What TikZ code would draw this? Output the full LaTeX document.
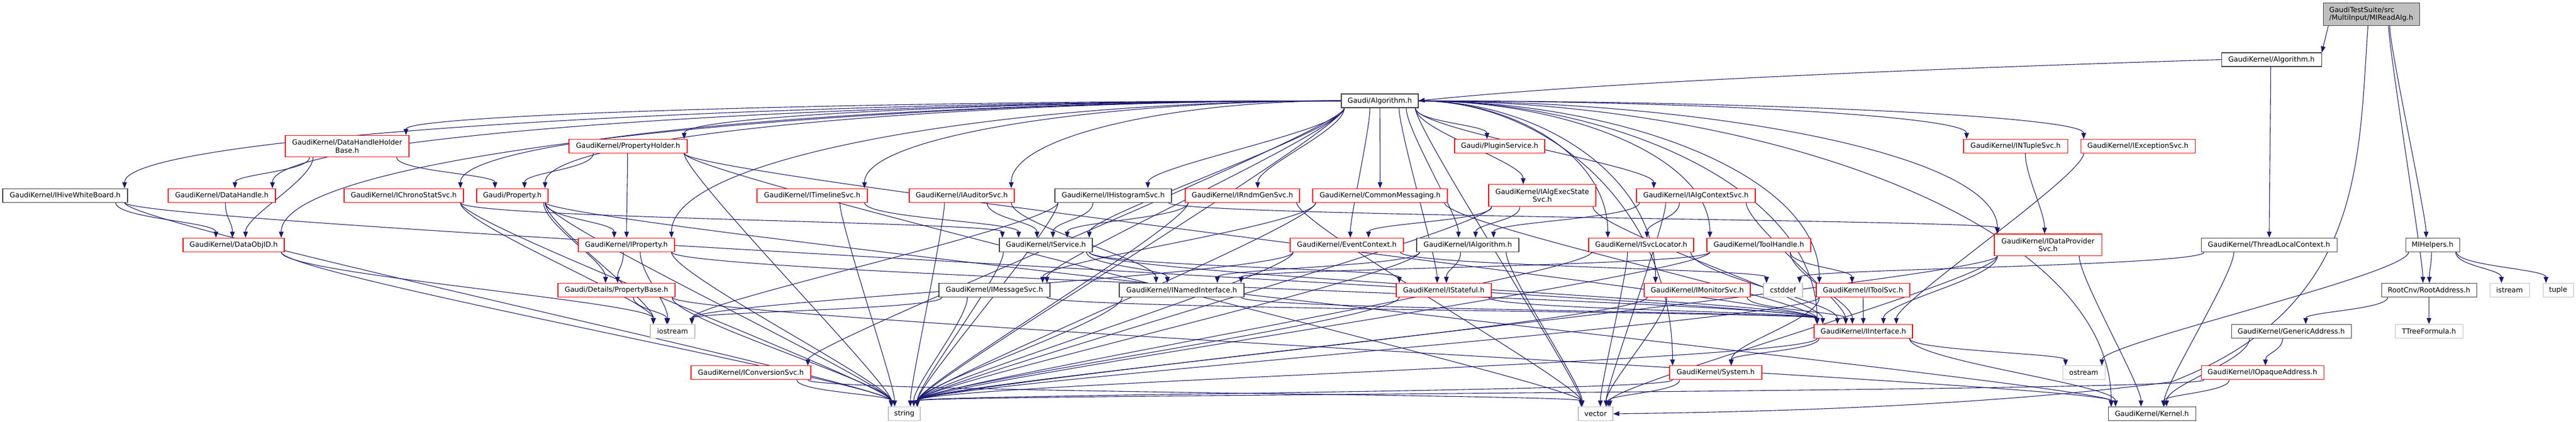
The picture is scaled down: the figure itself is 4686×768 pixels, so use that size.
\documentclass[tikz,border=0pt]{standalone}
\usepackage{fontspec}
\setmainfont{DejaVu Sans}
\usetikzlibrary{arrows.meta,backgrounds,calc}
\definecolor{edgeblue}{HTML}{191970}
\definecolor{greyfill}{HTML}{BFBFBF}
\definecolor{sysgrey}{HTML}{C0C0C0}
\definecolor{boxblack}{HTML}{404040}
\definecolor{boxred}{HTML}{FF0000}
\tikzset{
  nd/.style={draw, fill=white, line width=1.1pt, inner sep=0pt, minimum height=25,
    font=\fontsize{12.8}{14.5}\selectfont, text=black},
  rednd/.style={nd, draw=boxred},
  blknd/.style={nd, draw=boxblack},
  sysnd/.style={nd, draw=sysgrey},
  rootnd/.style={nd, draw=boxblack, fill=greyfill},
  edge/.style={draw=edgeblue, line width=1.1pt, -{Triangle[length=11pt,width=8.5pt]}}
}
% edge leaving the bottom of #1, entering the top of #2
\newcommand\edgB[2]{%
\draw[edge] let \p1=(#1.center), \p2=(#2.north), \p3=(#1.south east), \p4=(#2.north east),
 \n1={\x3-\x1}, \n2={\x4-\x2}, \n3={\x2-\x1}, \n4={\y3-\y2},
 \n6={\x1 + max(-\n1+6, min(\n1-6, 0.3*\n3))},
 \n8={\x2 + max(-\n2+6, min(\n2-6, 0.15*(\n6-\x2)))},
 \n9={min(40, 0.45*\n4)}
 in (\n6,\y3) .. controls (\n6,\y3-\n9) and (\n8,\y2+\n9) .. (\n8,\y2);}
% edge leaving the side (#3 = west/east) of #1, entering the top of #2
\newcommand\edgSide[3]{%
\draw[edge] let \p1=(#1.#3), \p2=(#2.north), \p4=(#2.north east),
 \n2={\x4-\x2},
 \n8={\x2 + max(-\n2+6, min(\n2-6, 0.15*(\x1-\x2)))},
 \n{ax}={\x1 + 0.5*(\n8-\x1)},
 \n{by}={\y2 + 0.6*(\y1-\y2)}
 in (\p1) .. controls (\n{ax},\y1) and (\n8,\n{by}) .. (\n8,\y2);}
\newcommand\edgs[2]{\foreach \tgt in {#2}{\edgB{#1}{\tgt}}}
\newcommand\edgsW[2]{\foreach \tgt in {#2}{\edgSide{#1}{\tgt}{west}}}
\newcommand\edgsE[2]{\foreach \tgt in {#2}{\edgSide{#1}{\tgt}{east}}}
\begin{document}
\begin{tikzpicture}[x=1pt,y=-1pt]
\useasboundingbox (0,0) rectangle (4686,768);
% top
\node[rootnd, minimum width=175, minimum height=40.5, align=left] (root) at (4313.5,26) {GaudiTestSuite/src\\/MultiInput/MIReadAlg.h};
\node[blknd, minimum width=182] (gkalg) at (4132,108.5) {GaudiKernel/Algorithm.h};
\node[blknd, minimum width=140] (galg) at (2510,183.5) {Gaudi/Algorithm.h};
% row A
\node[rednd, minimum width=225, minimum height=39.5, align=center] (dhhb) at (631.5,266) {GaudiKernel/DataHandleHolder\\Base.h};
\node[rednd, minimum width=215] (pholder) at (1142.5,266) {GaudiKernel/PropertyHolder.h};
\node[rednd, minimum width=164] (plugin) at (2728,266) {Gaudi/PluginService.h};
\node[rednd, minimum width=189] (ntuple) at (3666.5,266) {GaudiKernel/INTupleSvc.h};
\node[rednd, minimum width=208] (iexc) at (3889,266) {GaudiKernel/IExceptionSvc.h};
% row B
\node[blknd, minimum width=227] (hive) at (118.5,355.6) {GaudiKernel/IHiveWhiteBoard.h};
\node[rednd, minimum width=195] (dhandle) at (403.5,355.6) {GaudiKernel/DataHandle.h};
\node[rednd, minimum width=217] (chrono) at (734.5,355.6) {GaudiKernel/IChronoStatSvc.h};
\node[rednd, minimum width=130] (prop) at (932,355.6) {Gaudi/Property.h};
\node[rednd, minimum width=201] (timeline) at (1477.5,355.6) {GaudiKernel/ITimelineSvc.h};
\node[rednd, minimum width=191] (auditor) at (1749.5,355.6) {GaudiKernel/IAuditorSvc.h};
\node[blknd, minimum width=212] (histo) at (2025,355.6) {GaudiKernel/IHistogramSvc.h};
\node[rednd, minimum width=208] (rndm) at (2260,355.6) {GaudiKernel/IRndmGenSvc.h};
\node[rednd, minimum width=245] (commsg) at (2510.5,355.6) {GaudiKernel/CommonMessaging.h};
\node[rednd, minimum width=195, minimum height=40, align=center] (execstate) at (2805.5,355.8) {GaudiKernel/IAlgExecState\\Svc.h};
\node[rednd, minimum width=216] (algctx) at (3085,355.6) {GaudiKernel/IAlgContextSvc.h};
% row C
\node[rednd, minimum width=184] (objid) at (425,445.7) {GaudiKernel/DataObjID.h};
\node[rednd, minimum width=175] (iprop) at (1139.5,445.7) {GaudiKernel/IProperty.h};
\node[blknd, minimum width=169] (iservice) at (1902.5,445.7) {GaudiKernel/IService.h};
\node[rednd, minimum width=206] (evctx) at (2450,445.7) {GaudiKernel/EventContext.h};
\node[blknd, minimum width=186] (ialg) at (2670,445.7) {GaudiKernel/IAlgorithm.h};
\node[rednd, minimum width=191] (svcloc) at (2985.5,445.7) {GaudiKernel/ISvcLocator.h};
\node[rednd, minimum width=189] (toolh) at (3199.5,445.7) {GaudiKernel/ToolHandle.h};
\node[rednd, minimum width=195, minimum height=39.5, align=center] (dataprov) at (3725.5,445.7) {GaudiKernel/IDataProvider\\Svc.h};
\node[blknd, minimum width=247] (tlc) at (4127.5,445.7) {GaudiKernel/ThreadLocalContext.h};
\node[blknd, minimum width=98] (mihelp) at (4425,445.7) {MIHelpers.h};
% row D
\node[rednd, minimum width=213] (propbase) at (1121.5,528) {Gaudi/Details/PropertyBase.h};
\node[blknd, minimum width=202] (msgsvc) at (1809,528) {GaudiKernel/IMessageSvc.h};
\node[blknd, minimum width=227] (named) at (2149.5,528) {GaudiKernel/INamedInterface.h};
\node[rednd, minimum width=173] (stateful) at (2626.5,528) {GaudiKernel/IStateful.h};
\node[rednd, minimum width=193] (monitor) at (3087.5,528) {GaudiKernel/IMonitorSvc.h};
\node[sysnd, minimum width=71] (cstddef) at (3243.5,528) {cstddef};
\node[rednd, minimum width=170] (toolsvc) at (3389,528) {GaudiKernel/IToolSvc.h};
\node[blknd, minimum width=173] (rootaddr) at (4418.5,528) {RootCnv/RootAddress.h};
\node[sysnd, minimum width=72] (istream) at (4565,528) {istream};
\node[sysnd, minimum width=55] (tuple) at (4653.5,528) {tuple};
% row E
\node[sysnd, minimum width=81] (iostream) at (1223.5,602.8) {iostream};
\node[rednd, minimum width=179] (iinterface) at (3389.5,602.8) {GaudiKernel/IInterface.h};
\node[blknd, minimum width=218] (generic) at (4168,602.8) {GaudiKernel/GenericAddress.h};
\node[sysnd, minimum width=123] (ttree) at (4418.5,602.8) {TTreeFormula.h};
% row F
\node[rednd, minimum width=218] (convsvc) at (1366,678.4) {GaudiKernel/IConversionSvc.h};
\node[rednd, minimum width=168] (system) at (3121,678.4) {GaudiKernel/System.h};
\node[sysnd, minimum width=77] (ostream) at (3790.5,678.4) {ostream};
\node[rednd, minimum width=223] (opaque) at (4115.5,678.4) {GaudiKernel/IOpaqueAddress.h};
% row G
\node[sysnd, minimum width=58] (string) at (1645,753) {string};
\node[sysnd, minimum width=63] (vector) at (2902.5,753) {vector};
\node[blknd, minimum width=159] (kernel) at (3914.5,753) {GaudiKernel/Kernel.h};

\begin{scope}[on background layer]
\fill[white] (0,0) rectangle (4686,768);
\edgs{root}{mihelp,rootaddr}
\draw[edge] (root.south west) ++(10,0) -- (gkalg.north east);
\draw[edge] ([xshift=-6pt]root.south) .. controls (4290,300) and (4300,560) .. (3950,695) .. controls (3600,740) and (3200,750) .. (vector.east);
\draw[edge] (gkalg.west) .. controls (3500,125) and (2900,150) .. (galg.east);
\edgs{gkalg}{tlc}
\edgsW{galg}{hive,objid,dhandle,dhhb,chrono,prop,pholder,iprop,timeline,auditor}
\edgsE{galg}{ntuple,iexc,dataprov,toolh,monitor,toolsvc,iinterface,system,kernel,svcloc}
\edgs{galg}{histo,rndm,commsg,execstate,algctx,plugin,iservice,evctx,ialg,msgsvc,convsvc,string,vector,stateful}
\edgs{mihelp}{rootaddr,istream,tuple,ostream}
\edgs{rootaddr}{generic,ttree}
\edgs{generic}{opaque,kernel}
\edgs{opaque}{kernel,string}
\edgs{tlc}{cstddef,kernel}
\edgs{hive}{objid,iinterface,string}
\edgs{dhandle}{objid}
\edgs{dhhb}{dhandle,objid,prop}
\edgs{objid}{iostream,string}
\edgs{pholder}{prop,iprop,string,vector,iinterface}
\edgs{prop}{propbase,iprop,string,iostream,kernel}
\edgs{iprop}{propbase,iostream,iinterface,string}
\edgs{propbase}{iostream,string,kernel}
\edgs{chrono}{iservice,iostream,string}
\edgs{timeline}{iservice,string}
\edgs{auditor}{iservice,named,string}
\edgs{histo}{iservice,dataprov,string,iostream}
\edgs{rndm}{iservice,string,vector}
\edgs{commsg}{msgsvc,string,iinterface}
\edgs{execstate}{ialg,evctx,string,iinterface}
\edgs{algctx}{ialg,svcloc,vector,iinterface}
\edgs{iservice}{named,stateful,string,iinterface}
\edgs{msgsvc}{string,iostream,iinterface}
\edgs{named}{iinterface,string}
\edgs{stateful}{iinterface,string}
\edgs{ialg}{named,stateful,string,vector}
\edgs{evctx}{cstddef,iostream,string}
\edgs{svcloc}{string,vector,iinterface}
\edgs{toolh}{toolsvc,named,iinterface,string}
\edgs{monitor}{iinterface,string,vector}
\edgs{toolsvc}{iinterface,system,string}
\edgs{dataprov}{iinterface,string,vector,kernel}
\edgs{ntuple}{dataprov}
\edgs{iexc}{iinterface}
\edgs{convsvc}{string,vector}
\edgs{iinterface}{system,ostream,kernel,string}
\edgs{system}{vector,string}
\end{scope}
\end{tikzpicture}
\end{document}
